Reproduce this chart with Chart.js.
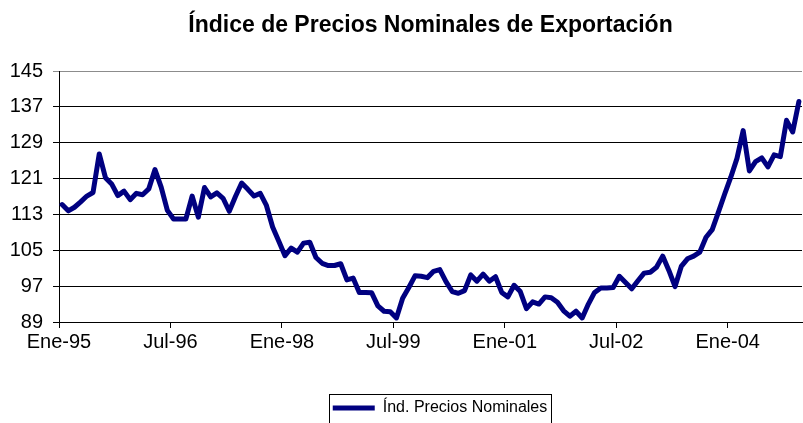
<!DOCTYPE html>
<html>
<head>
<meta charset="utf-8">
<script src="https://cdn.jsdelivr.net/npm/chart.js@4"></script>
<style>
  html, body { margin: 0; padding: 0; background: #fff; }
  #wrap { width: 803px; height: 423px; }
</style>
</head>
<body>
<div id="wrap"><canvas id="chart" width="803" height="423"></canvas></div>
<script>
// años y meses de la serie (Ene-95 .. Dic-04)
const anios = ['95', '96', '97', '98', '99', '00', '01', '02', '03', '04'];
const mesesAbr = ['Ene', 'Feb', 'Mar', 'Abr', 'May', 'Jun', 'Jul', 'Ago', 'Sep', 'Oct', 'Nov', 'Dic'];
const meses = anios.flatMap(a => mesesAbr.map(m => m + '-' + a));

// etiquetas del eje x, una cada 18 meses
const tickLabels = ['Ene-95', 'Jul-96', 'Ene-98', 'Jul-99', 'Ene-01', 'Jul-02', 'Ene-04'];
const tickStep = 18;

// Índ. Precios Nominales
const indice = [
  115.2, 113.8, 114.6, 115.8, 117.1, 117.9, 126.5, 121.2, 119.8, 117.2, 118.2, 116.3,
  117.7, 117.4, 118.7, 123.0, 119.1, 113.9, 112.0, 112.0, 112.0, 117.1, 112.4, 119.0,
  116.9, 117.8, 116.6, 113.7, 117.0, 120.0, 118.6, 117.1, 117.7, 115.0, 110.2, 107.0,
  103.8, 105.5, 104.6, 106.6, 106.8, 103.4, 102.1, 101.6, 101.6, 102.0, 98.4, 98.8,
  95.6, 95.6, 95.5, 92.6, 91.4, 91.3, 89.9, 94.3, 96.7, 99.3, 99.2, 98.9,
  100.3, 100.7, 98.0, 95.8, 95.4, 96.0, 99.5, 98.1, 99.7, 98.1, 99.1, 95.6,
  94.6, 97.2, 95.8, 92.0, 93.5, 93.0, 94.6, 94.4, 93.4, 91.5, 90.3, 91.4,
  89.9, 93.0, 95.6, 96.6, 96.6, 96.7, 99.2, 97.8, 96.4, 98.2, 99.9, 100.1,
  101.2, 103.7, 100.5, 96.9, 101.4, 103.1, 103.7, 104.6, 107.9, 109.6, 113.5, 117.5,
  121.3, 125.5, 131.7, 122.7, 124.8, 125.6, 123.6, 126.3, 125.9, 134.0, 131.4, 138.2
];

const fontFam = 'Arial, "Liberation Sans", sans-serif';
const navy = '#000080';

// mueve la leyenda y le dibuja el marco como en Excel
const legendFrame = {
  id: 'legendFrame',
  afterLayout(chart) {
    const lg = chart.legend;
    const d = 440 - (lg.left + lg.right) / 2;
    lg.left += d;
    lg.right += d;
  },
  afterDraw(chart) {
    const lg = chart.legend;
    const hb = lg.legendHitBoxes && lg.legendHitBoxes[0];
    if (!hb) return;
    const ctx = chart.ctx;
    ctx.save();
    ctx.strokeStyle = '#000';
    ctx.lineWidth = 1;
    ctx.strokeRect(Math.round(hb.left - 4) + 0.5, Math.round(lg.top) + 0.5, Math.round(hb.width + 7), 60);
    ctx.restore();
  }
};

const ctx = document.getElementById('chart').getContext('2d');
new Chart(ctx, {
  type: 'line',
  data: {
    datasets: [{
      label: 'Índ. Precios Nominales',
      data: indice.map((v, i) => ({ x: i + 0.5, y: v, mes: meses[i] })),
      borderColor: navy,
      backgroundColor: navy,
      borderWidth: 5,
      borderJoinStyle: 'round',
      borderCapStyle: 'round',
      pointRadius: 0,
      tension: 0
    }]
  },
  options: {
    responsive: false,
    animation: false,
    layout: { padding: { left: 0, right: 1, top: 0, bottom: -3 } },
    plugins: {
      title: {
        display: true,
        text: 'Índice de Precios Nominales de Exportación',
        color: '#000',
        fullSize: false,
        font: { family: fontFam, size: 23, weight: 'bold' },
        padding: { top: 12, bottom: 31.4 }
      },
      legend: {
        position: 'bottom',
        labels: {
          color: '#000',
          font: { family: fontFam, size: 16 },
          boxWidth: 42,
          boxHeight: 5,
          padding: 6,
          generateLabels: (chart) =>
            Chart.defaults.plugins.legend.labels.generateLabels(chart).map(l => ({ ...l, lineWidth: 0, fillStyle: navy }))
        }
      },
      tooltip: { enabled: false }
    },
    scales: {
      x: {
        type: 'linear',
        min: 0,
        max: meses.length,
        afterBuildTicks: (s) => { s.ticks = tickLabels.map((t, i) => ({ value: i * tickStep })); },
        afterFit: (s) => { s.height = 72; },
        ticks: {
          autoSkip: false,
          maxRotation: 0,
          color: '#000',
          padding: 2,
          font: { family: fontFam, size: 20 },
          callback: (v, i) => tickLabels[i]
        },
        grid: { drawOnChartArea: false, color: '#000', tickLength: 6 },
        border: { color: '#000', width: 1 }
      },
      y: {
        min: 89,
        max: 145,
        afterFit: (s) => { s.width = 59; },
        ticks: {
          stepSize: 8,
          color: '#000',
          padding: 10,
          font: { family: fontFam, size: 20 }
        },
        grid: {
          color: (c) => (c.tick && c.tick.value === 145 ? '#8c8c8c' : '#000'),
          tickLength: 6
        },
        border: { color: '#000', width: 1 }
      }
    }
  },
  plugins: [legendFrame]
});
</script>
</body>
</html>
